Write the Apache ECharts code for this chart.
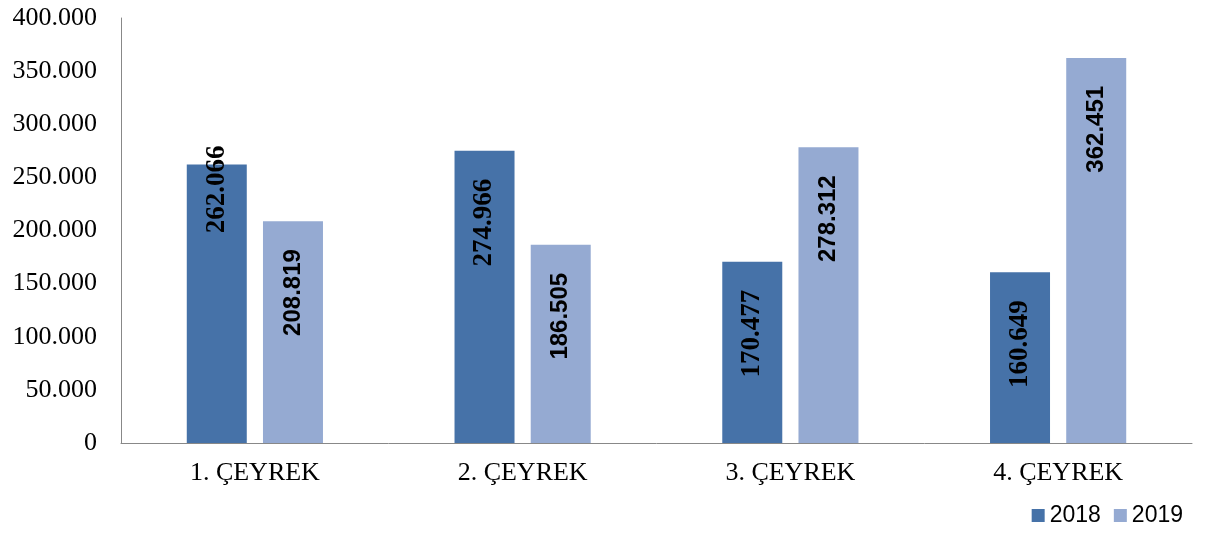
<!DOCTYPE html>
<html lang="tr">
<head>
    <meta charset="UTF-8">
    <title>Çeyrek</title>
    <script src="https://cdn.jsdelivr.net/npm/echarts@6/dist/echarts.min.js"></script>
    <style>
        html, body { margin: 0; padding: 0; background: #fff; }
        #main { width: 1208px; height: 533px; }
    </style>
</head>
<body>
<div id="main"></div>
<script>
    var quarters = ['1. ÇEYREK', '2. ÇEYREK', '3. ÇEYREK', '4. ÇEYREK'];
    var years = ['2018', '2019'];
    var values2018 = [262066, 274966, 170477, 160649];
    var values2019 = [208819, 186505, 278312, 362451];

    // 400000 -> "400.000"
    function fmt(v) {
        return String(v).replace(/\B(?=(\d{3})+(?!\d))/g, '.');
    }

    function barLabel(family, size) {
        return {
            show: true,
            position: 'insideTop',
            rotate: 90,
            align: 'right',
            verticalAlign: 'middle',
            distance: 28,
            color: '#000',
            fontFamily: family,
            fontWeight: 'bold',
            fontSize: size,
            formatter: function (p) { return fmt(p.value); }
        };
    }

    // first 2018 label sits higher in the original, sticking out above the bar
    var data2018 = values2018.map(function (v, i) {
        if (i === 0) {
            return { value: v, label: { distance: -19 } };
        }
        return v;
    });

    var myChart = echarts.init(document.getElementById('main'));
    myChart.setOption({
        animation: false,
        grid: { left: 121, right: 16, top: 18, bottom: 90 },
        legend: {
            right: 20,
            bottom: 1,
            itemWidth: 13,
            itemHeight: 13,
            itemGap: 13,
            icon: 'rect',
            textStyle: { fontFamily: 'Liberation Sans', fontSize: 23, color: '#000' },
            data: years
        },
        xAxis: {
            type: 'category',
            data: quarters,
            axisLine: { lineStyle: { color: '#888', width: 1 } },
            axisTick: { show: false },
            axisLabel: {
                color: '#000',
                fontFamily: 'Liberation Serif',
                fontSize: 26,
                margin: 17
            }
        },
        yAxis: {
            type: 'value',
            min: 0,
            max: 400000,
            interval: 50000,
            axisLine: { show: true, lineStyle: { color: '#888', width: 1 } },
            axisTick: { show: false },
            splitLine: { show: false },
            axisLabel: {
                color: '#000',
                fontFamily: 'Liberation Serif',
                fontSize: 26,
                margin: 24,
                formatter: fmt
            }
        },
        series: [{
            name: years[0],
            type: 'bar',
            barWidth: 60,
            barGap: '27%',
            itemStyle: { color: '#4672a8' },
            label: barLabel('Liberation Serif', 27),
            data: data2018
        }, {
            name: years[1],
            type: 'bar',
            barWidth: 60,
            barGap: '27%',
            itemStyle: { color: '#95aad2' },
            label: barLabel('Liberation Sans', 24),
            data: values2019
        }]
    });
</script>
</body>
</html>
